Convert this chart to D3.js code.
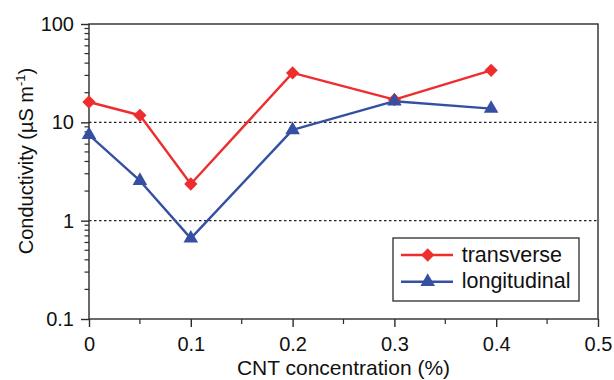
<!DOCTYPE html>
<html>
<head>
<meta charset="utf-8">
<script src="https://cdn.jsdelivr.net/npm/d3@7"></script>
<style>
  html, body { margin: 0; padding: 0; background: #fff; }
  svg { display: block; font-family: "Liberation Sans", Arial, sans-serif; }
</style>
</head>
<body>
<svg id="chart" width="614" height="380"></svg>
<script>
// CNT concentration (%) and measured conductivity (µS m^-1)
const concentration = [0, 0.05, 0.1, 0.2, 0.3, 0.395];
const transverse   = [16.1, 11.8, 2.36, 31.8, 17.0, 33.8];
const longitudinal = [7.45, 2.55, 0.66, 8.37, 16.4, 13.8];

const seriesNames  = ["transverse", "longitudinal"];
const seriesColors = ["#ee2e2e", "#3550a2"];

const xTicks = [0, 0.1, 0.2, 0.3, 0.4, 0.5];
const xMinorTicks = [0.05, 0.15, 0.25, 0.35, 0.45];
const yTicks = [0.1, 1, 10, 100];
const gridValues = [1, 10];

const svg = d3.select("#chart");
const margin = { left: 89, right: 16, top: 24, bottom: 61 };
const W = 614, H = 380;
const x = d3.scaleLinear().domain([0, 0.5]).range([margin.left, W - margin.right]);
const y = d3.scaleLog().domain([0.1, 100]).range([H - margin.bottom, margin.top]);

const axisColor = "#2b2b2b";
const textColor = "#111";

// dotted reference lines at the decades
svg.append("g").selectAll("line").data(gridValues).join("line")
  .attr("x1", x(0)).attr("x2", x(0.5))
  .attr("y1", d => y(d)).attr("y2", d => y(d))
  .attr("stroke", "#222").attr("stroke-width", 1.2)
  .attr("stroke-dasharray", "2.5,2.5");

// frame
svg.append("rect")
  .attr("x", x(0)).attr("y", y(100))
  .attr("width", x(0.5) - x(0)).attr("height", y(0.1) - y(100))
  .attr("fill", "none").attr("stroke", axisColor).attr("stroke-width", 1.4);

// left axis: major + minor log ticks
const minorY = [];
for (let dec = 0.1; dec < 100; dec *= 10) {
  for (let k = 2; k <= 9; k++) minorY.push(+(dec * k).toPrecision(3));
}
const yAxis = d3.axisLeft(y).tickValues(yTicks).tickFormat(d => d3.format("~g")(d))
  .tickSize(8).tickPadding(7);
const gy = svg.append("g").attr("transform", `translate(${x(0)},0)`).call(yAxis);
gy.select(".domain").remove();
gy.selectAll(".tick line").attr("stroke", axisColor).attr("stroke-width", 1.4);
gy.selectAll(".tick text").attr("font-size", 20).attr("fill", textColor)
  .attr("font-family", "Liberation Sans, Arial, sans-serif");
svg.append("g").selectAll("line").data(minorY).join("line")
  .attr("x1", x(0) - 4.5).attr("x2", x(0))
  .attr("y1", d => y(d)).attr("y2", d => y(d))
  .attr("stroke", axisColor).attr("stroke-width", 1.2);

// bottom axis
const xAxis = d3.axisBottom(x).tickValues(xTicks).tickFormat(d => d3.format("~g")(d))
  .tickSize(8).tickPadding(10);
const gx = svg.append("g").attr("transform", `translate(0,${y(0.1)})`).call(xAxis);
gx.select(".domain").remove();
gx.selectAll(".tick line").attr("stroke", axisColor).attr("stroke-width", 1.4);
gx.selectAll(".tick text").attr("font-size", 20).attr("fill", textColor)
  .attr("font-family", "Liberation Sans, Arial, sans-serif");
svg.append("g").selectAll("line").data(xMinorTicks).join("line")
  .attr("x1", d => x(d)).attr("x2", d => x(d))
  .attr("y1", y(0.1)).attr("y2", y(0.1) + 5)
  .attr("stroke", axisColor).attr("stroke-width", 1.2);

// axis titles
svg.append("text")
  .attr("x", (x(0) + x(0.5)) / 2).attr("y", 375)
  .attr("text-anchor", "middle").attr("font-size", 21).attr("fill", textColor)
  .text("CNT concentration (%)");

const yTitle = svg.append("text")
  .attr("transform", "translate(33,161) rotate(-90)")
  .attr("text-anchor", "middle").attr("font-size", 20).attr("fill", textColor);
yTitle.append("tspan").text("Conductivity (µS m");
yTitle.append("tspan").attr("dy", -8).attr("font-size", 13).text("-1");
yTitle.append("tspan").attr("dy", 8).text(")");

// markers: diamond for transverse, triangle for longitudinal
function drawMarker(g, kind, color) {
  if (kind === 0) {
    g.append("path").attr("d", d3.symbol().type(d3.symbolSquare).size(88)())
      .attr("transform", "rotate(45)").attr("fill", color);
  } else {
    g.append("path").attr("d", d3.symbol().type(d3.symbolTriangle).size(92)())
      .attr("fill", color);
  }
}

const seriesData = [transverse, longitudinal];
const line = d3.line().x(d => x(d[0])).y(d => y(d[1]));

seriesData.forEach((vals, i) => {
  const pts = concentration.map((c, j) => [c, vals[j]]);
  svg.append("path").datum(pts)
    .attr("d", line).attr("fill", "none")
    .attr("stroke", seriesColors[i]).attr("stroke-width", 2.4)
    .attr("stroke-linejoin", "round");
});
seriesData.forEach((vals, i) => {
  concentration.forEach((c, j) => {
    const g = svg.append("g").attr("transform", `translate(${x(c)},${y(vals[j])})`);
    drawMarker(g, i, seriesColors[i]);
  });
});

// legend
const legend = svg.append("g").attr("transform", "translate(393,238)");
legend.append("rect").attr("width", 186).attr("height", 63)
  .attr("fill", "#fff").attr("stroke", axisColor).attr("stroke-width", 1.3);
seriesNames.forEach((name, i) => {
  const cy = 17 + i * 26.7;
  legend.append("line").attr("x1", 8).attr("x2", 60).attr("y1", cy).attr("y2", cy)
    .attr("stroke", seriesColors[i]).attr("stroke-width", 2.4);
  const g = legend.append("g").attr("transform", `translate(34.7,${cy})`);
  drawMarker(g, i, seriesColors[i]);
  legend.append("text").attr("x", 68.7).attr("y", cy + 6.7)
    .attr("font-size", 21.5).attr("fill", textColor).text(name);
});
</script>
</body>
</html>
